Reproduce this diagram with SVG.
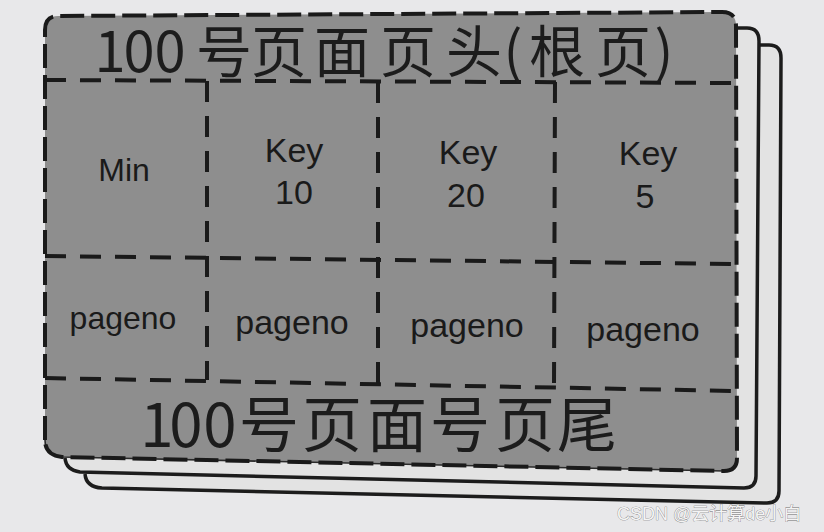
<svg xmlns="http://www.w3.org/2000/svg" width="824" height="532" viewBox="0 0 824 532">
  <style>
    .back { fill: #e3e3e3; stroke: #1c1c1c; stroke-width: 3.5; }
    .main { fill: #8e8e8e; }
    .edge { fill: none; stroke: #1a1a1a; stroke-width: 4; stroke-dasharray: 24 7; }
    .thin { fill: none; stroke: #2a2a2a; stroke-width: 1.6; }
    .grid { fill: none; stroke: #1a1a1a; stroke-width: 4; stroke-dasharray: 21 14; }
    .big { font-family: "Noto Sans CJK SC", "Noto Sans", sans-serif; fill: #1c1c1c; text-anchor: middle; }
    .cell { font-family: "Liberation Sans", Arial, sans-serif; fill: #1a1a1a; text-anchor: middle; }
    .wm { font-family: "Liberation Sans", "Noto Sans CJK SC", sans-serif; font-size: 18px; fill: #f4f4f4; stroke: #6a6a6a; stroke-width: 0.6; paint-order: stroke; }
  </style>
  <rect x="0" y="0" width="824" height="532" fill="#e8e8ea"/>

  <g id="page-back-2">
    <path class="back" d="M 760,45 L 769,45 Q 781,45 781,58 L 779,491 Q 779,503 767,503 L 102,488 Q 86,487 85,474"/>
  </g>
  <g id="page-back-1">
    <path class="back" d="M 738,28 L 747,28 Q 759,28 759,41 L 756,476 Q 756,488 744,488 L 80,472 Q 66,470 65,458"/>
  </g>

  <g id="page-main">
    <path class="main" d="M 58,16 L 722,12 Q 736,12 736,26 L 737,458 Q 737,471 724,471 L 62,457 Q 45,455 45,440 L 45,30 Q 45,16 58,16 Z"/>
    <path class="thin" d="M 45,440 Q 45,455 62,457 L 724,471 Q 737,471 737,458"/>
    <path class="edge" d="M 45,440 L 45,30 Q 45,16 58,16 L 722,12 Q 736,12 736,26 L 737,458 Q 737,471 724,471 L 62,457 Q 45,455 45,440"/>
  </g>

  <g id="grid-lines">
    <path class="grid" d="M 45,80 L 737,83"/>
    <path class="grid" d="M 45,256 L 737,264"/>
    <path class="grid" d="M 45,378 L 737,391"/>
    <path class="grid" d="M 207,81 L 207,380"/>
    <path class="grid" d="M 378,82 L 378,385"/>
    <path class="grid" d="M 555,82 L 554,388"/>
  </g>

  <g id="header">
    <text class="big" font-size="56" y="72" x="110 139 170 224 279 342 408 474 513 557 623 664">100号页面页头(根页)</text>
  </g>

  <g id="cell-min">
    <text class="cell" font-size="32" x="124" y="181">Min</text>
  </g>
  <g id="cell-key10">
    <text class="cell" font-size="34" x="294" y="162">Key</text>
    <text class="cell" font-size="34" x="294" y="204">10</text>
  </g>
  <g id="cell-key20">
    <text class="cell" font-size="34" x="468" y="164">Key</text>
    <text class="cell" font-size="34" x="466" y="207">20</text>
  </g>
  <g id="cell-key5">
    <text class="cell" font-size="34" x="648" y="165">Key</text>
    <text class="cell" font-size="34" x="645" y="208">5</text>
  </g>
  <g id="cell-pageno-1">
    <text class="cell" font-size="32" x="123" y="329">pageno</text>
  </g>
  <g id="cell-pageno-2">
    <text class="cell" font-size="34" x="292" y="334">pageno</text>
  </g>
  <g id="cell-pageno-3">
    <text class="cell" font-size="34" x="467" y="337">pageno</text>
  </g>
  <g id="cell-pageno-4">
    <text class="cell" font-size="34" x="643" y="341">pageno</text>
  </g>

  <g id="footer">
    <text class="big" font-size="60" y="447" x="157 186 220 269 332 397 460 525 587">100号页面号页尾</text>
  </g>

  <g id="watermark">
    <text class="wm" x="617" y="520">CSDN @云计算de小白</text>
  </g>
</svg>
